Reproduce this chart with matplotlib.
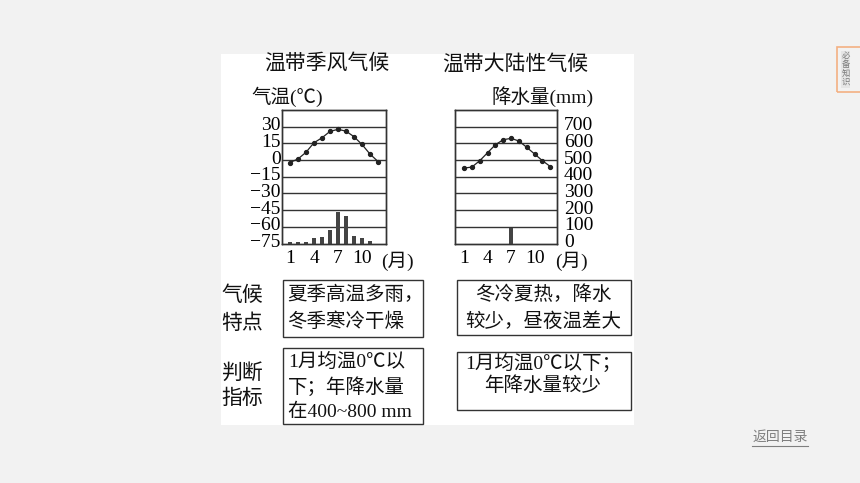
import matplotlib
matplotlib.use('Agg')
import matplotlib.pyplot as plt
import matplotlib.transforms as mtransforms
from matplotlib.patches import Rectangle
from matplotlib.lines import Line2D

SERIF = ['Liberation Serif', 'Noto Sans CJK SC']
CJK = ['Noto Sans CJK SC', 'DejaVu Sans']

# data
months = list(range(1, 13))
monsoon_temp = [-2.2, 1, 7, 15.6, 20, 25.8, 27.6, 26, 21, 14, 5.4, -1.3]
monsoon_prec = [6, 6, 10, 30, 40, 78, 187, 163, 46, 30, 16, 0]
continental_temp = [-7.2, -6.3, -0.6, 6.6, 13.8, 18.3, 19.5, 17.1, 11.4, 5.4, -0.6, -5.8]
continental_prec = [0, 0, 0, 0, 0, 0, 95, 0, 0, 0, 0, 0]

temp_ticks = [30, 15, 0, -15, -30, -45, -60, -75]
temp_labels = ['30', '15', '0', '−15', '−30', '−45', '−60', '−75']
prec_ticks = [700, 600, 500, 400, 300, 200, 100, 0]
prec_labels = ['700', '600', '500', '400', '300', '200', '100', '0']
month_ticks = [1, 4, 7, 10]
month_labels = ['1', '4', '7', '10']

titles = ['温带季风气候', '温带大陆性气候']
side_labels = ['气候', '特点', '判断', '指标']
feature_monsoon = ['夏季高温多雨，', '冬季寒冷干燥']
feature_cont = ['冬冷夏热，降水', '较少，昼夜温差大']
index_monsoon = ['1月均温0℃以', '下；年降水量', '在400~800 mm']
index_cont = ['1月均温0℃以下；', '年降水量较少']

W, H = 860, 483
fig = plt.figure(figsize=(8.6, 4.83), dpi=100, facecolor='#f2f2f2')


def fx(x):
    return x / W


def fy(y):
    return 1 - y / H


def rect_px(x0, y0, x1, y1, **kw):
    r = Rectangle((fx(x0), fy(y1)), (x1 - x0) / W, (y1 - y0) / H,
                  transform=fig.transFigure, **kw)
    fig.add_artist(r)
    return r


def put(x, y, s, **kw):
    fig.text(fx(x), fy(y), s, **kw)


# white panel
rect_px(221, 54, 634, 425, facecolor='white', edgecolor='none', zorder=0)

lift = mtransforms.ScaledTranslation(0, 3 / 100, fig.dpi_scale_trans)


def draw_chart(x0, x1, xlim, temp, prec, left_labels):
    ax = fig.add_axes([fx(x0), fy(243.5), (x1 - x0) / W, (243.5 - 110) / H])
    ax.set_facecolor('none')
    ax.set_xlim(xlim)
    ax.set_ylim(-75, 45)
    for t in temp_ticks[:-1]:
        ax.axhline(t, color='#333333', lw=1, zorder=1)
    ax2 = ax.twinx()
    ax2.set_ylim(0, 800)
    ax2.bar(months, prec, width=0.55, color='#444444', zorder=2)
    ax.plot(months, temp, color='#222222', lw=0.9, marker='o', ms=2.8, zorder=3)
    for a in (ax, ax2):
        for sp in a.spines.values():
            sp.set_color('#333333')
            sp.set_linewidth(1)
    ax.set_xticks(month_ticks)
    ax.set_xticklabels(month_labels, family=SERIF, fontsize=14)
    ax.tick_params(axis='x', length=0, pad=5)
    if left_labels:
        ax.set_yticks(temp_ticks)
        ax.set_yticklabels(temp_labels, family=SERIF, fontsize=14)
        ax.tick_params(axis='y', length=0, pad=1)
        ax2.set_yticks([])
        labels = ax.get_yticklabels()
    else:
        ax.set_yticks([])
        ax2.set_yticks(prec_ticks)
        ax2.set_yticklabels(prec_labels, family=SERIF, fontsize=14)
        ax2.tick_params(axis='y', length=0, pad=5)
        labels = ax2.get_yticklabels()
    for lab in labels:
        lab.set_transform(lab.get_transform() + lift)
    return ax


draw_chart(282, 386, (0, 13), monsoon_temp, monsoon_prec, True)
draw_chart(455, 557, (-0.15, 12.85), continental_temp, continental_prec, False)

put(327, 63, titles[0], family=CJK, fontsize=15, ha='center', va='center', color='#111111')
put(515, 64, titles[1], family=CJK, fontsize=15, ha='center', va='center', color='#111111')
put(287, 97, '气温(℃)', family=SERIF, fontsize=14, ha='center', va='center', color='#111111')
put(543, 97, '降水量(mm)', family=SERIF, fontsize=14, ha='center', va='center', color='#111111')
put(397, 261, '(月)', family=SERIF, fontsize=14, ha='center', va='center', color='#111111')
put(571, 261, '(月)', family=SERIF, fontsize=14, ha='center', va='center', color='#111111')

# side labels
for s, y in zip(side_labels, [295, 323, 373, 398]):
    put(221, y, s, family=CJK, fontsize=15, ha='left', va='center', color='#111111')

# text boxes
rect_px(283, 280, 423, 337, facecolor='none', edgecolor='#333333', lw=1)
rect_px(457, 280, 631, 335, facecolor='none', edgecolor='#333333', lw=1)
rect_px(283, 348, 423, 424, facecolor='none', edgecolor='#333333', lw=1)
rect_px(457, 352, 631, 410, facecolor='none', edgecolor='#333333', lw=1)

for s, y in zip(feature_monsoon, [295, 322]):
    put(287, y, s, family=SERIF, fontsize=14, ha='left', va='center', color='#111111')
for s, y in zip(feature_cont, [295, 322]):
    put(543, y, s, family=SERIF, fontsize=14, ha='center', va='center', color='#111111')
for s, y in zip(index_monsoon, [362, 387, 412]):
    put(288, y, s, family=SERIF, fontsize=14, ha='left', va='center', color='#111111')
for s, y in zip(index_cont, [363, 386]):
    put(543, y, s, family=SERIF, fontsize=14, ha='center', va='center', color='#111111')

# side tab
rect_px(837, 47, 872, 92, facecolor='none', edgecolor='#f4b183', lw=1.2)
rect_px(841, 51, 850, 88, facecolor='#e6e6e6', edgecolor='none')
for ch, y in zip('必备知识', [55.5, 64.5, 73.5, 82.5]):
    put(846, y, ch, family=CJK, fontsize=6, ha='center', va='center', color='#7a7a7a')

# back link
put(780, 437, '返回目录', family=CJK, fontsize=10, ha='center', va='center', color='#7f7f7f')
fig.add_artist(Line2D([fx(752), fx(808)], [fy(446), fy(446)], transform=fig.transFigure,
                      color='#7f7f7f', lw=0.8))

fig.savefig('out.png', dpi=100, facecolor=fig.get_facecolor())
